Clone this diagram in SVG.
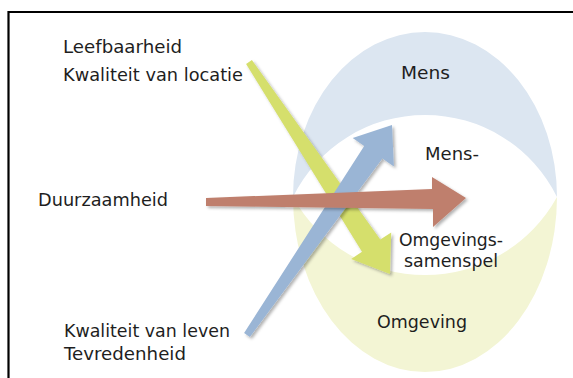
<svg xmlns="http://www.w3.org/2000/svg" width="573" height="378" viewBox="0 0 573 378">
<defs>
<style>
text{font-family:"DejaVu Sans","Liberation Sans",Arial,sans-serif;font-size:17px;fill:#1e1e1e;}
.frame{fill:none;stroke:#000;stroke-width:2.2;}
.arrow{filter:url(#sh);}
</style>
<filter id="sh" x="-20%" y="-20%" width="140%" height="140%">
<feDropShadow dx="2" dy="2" stdDeviation="1.6" flood-color="#000" flood-opacity="0.3"/>
</filter>
</defs>
<rect width="573" height="378" fill="#fff"/>
<path class="frame" d="M8.5 378 V12 H573"/>
<g id="mens">
<path d="M293 197 A132 165 0 0 1 557 197 A147.2 147.2 0 0 0 293 197 Z" fill="#dce6f1"/>
<text x="401" y="79" textLength="49" lengthAdjust="spacingAndGlyphs">Mens</text>
</g>
<g id="omgeving">
<path d="M293 197 A132 175 0 0 0 557 197 A150.7 150.7 0 0 1 293 197 Z" fill="#f3f5d4"/>
<text x="377" y="328" textLength="90" lengthAdjust="spacingAndGlyphs">Omgeving</text>
</g>
<g id="connectors">
<polygon class="arrow" fill="#d5df6c" points="246.1,63.9 362,251.8 351.2,259 390,274 391.2,232.4 380.3,239.6 251.9,60.1"/>
<polygon class="arrow" fill="#9ab5d5" points="244.1,333 364.2,146 352.7,138 392,125 393.9,166.4 382.4,158.4 249.9,337"/>
<polygon class="arrow" fill="#bf7f6d" points="206,198 432,189 432,177 466,198 433,227 433,209 206,206"/>
</g>
<g id="samenspel">
<text x="425" y="160" textLength="54" lengthAdjust="spacingAndGlyphs">Mens-</text>
<text x="399" y="246" textLength="104" lengthAdjust="spacingAndGlyphs">Omgevings-</text>
<text x="404" y="267" textLength="94" lengthAdjust="spacingAndGlyphs">samenspel</text>
</g>
<g id="leefbaarheid">
<text x="63" y="53" textLength="119" lengthAdjust="spacingAndGlyphs">Leefbaarheid</text>
<text x="63" y="81" textLength="180" lengthAdjust="spacingAndGlyphs">Kwaliteit van locatie</text>
</g>
<g id="duurzaamheid">
<text x="38" y="206" textLength="130" lengthAdjust="spacingAndGlyphs">Duurzaamheid</text>
</g>
<g id="kwaliteit-leven">
<text x="64" y="337" textLength="166" lengthAdjust="spacingAndGlyphs">Kwaliteit van leven</text>
<text x="64" y="360" textLength="122" lengthAdjust="spacingAndGlyphs">Tevredenheid</text>
</g>
</svg>
